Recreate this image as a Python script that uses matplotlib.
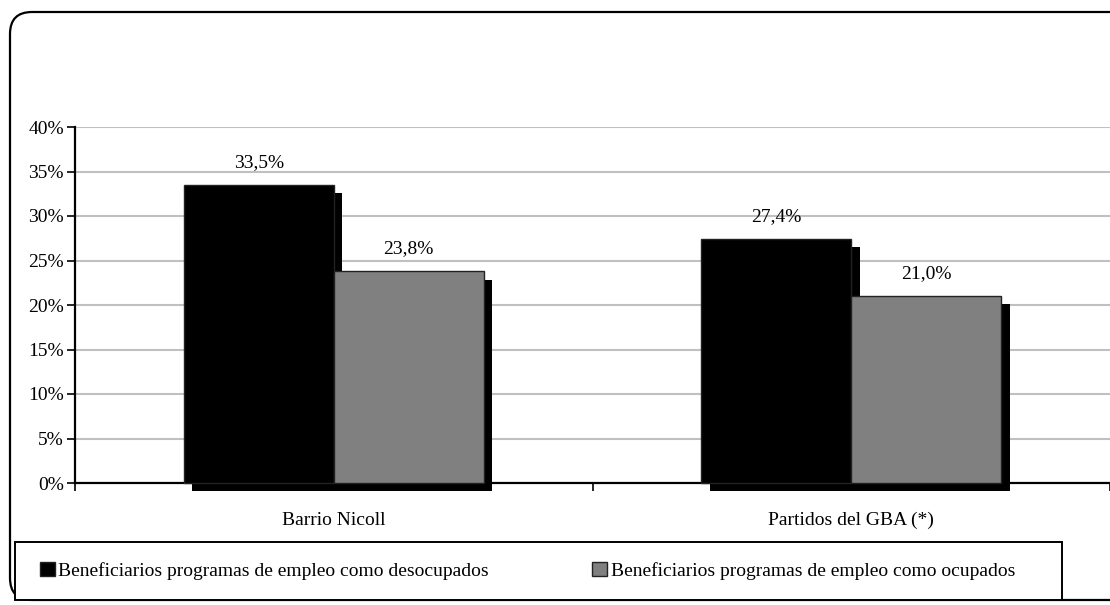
import numpy as np
import matplotlib
matplotlib.use("Agg")
import matplotlib.pyplot as plt
import matplotlib.patheffects as pe
from matplotlib.patches import FancyBboxPatch, Patch, Rectangle
from matplotlib.ticker import PercentFormatter

# ── Data ────────────────────────────────────────────────────────────────
categories = ["Barrio Nicoll", "Partidos del GBA (*)"]
desocupados = [33.5, 27.4]
ocupados = [23.8, 21.0]
series_names = [
    "Beneficiarios programas de empleo como desocupados",
    "Beneficiarios programas de empleo como ocupados",
]
y_ticks = [0, 5, 10, 15, 20, 25, 30, 35, 40]

plt.rcParams["font.family"] = ["Liberation Serif", "DejaVu Serif"]
FS = 14

fig = plt.figure(figsize=(11.1, 6.05), dpi=100, facecolor="white")

# rounded outer frame (right edge runs past the image)
frame = FancyBboxPatch(
    (0.10, 0.05), 11.3, 5.88,
    boxstyle="round,pad=0,rounding_size=0.22",
    transform=fig.dpi_scale_trans,
    facecolor="none", edgecolor="black", linewidth=1.6, zorder=0,
)
fig.patches.append(frame)

ax = fig.add_axes([75 / 1110, 1 - 483 / 605, 1035 / 1110, (483 - 127) / 605])
ax.set_facecolor("white")

x = np.arange(len(categories))
w = 0.29
shadow = [pe.SimplePatchShadow(offset=(6, -6), shadow_rgbFace="black", alpha=1.0), pe.Normal()]

b1 = ax.bar(x - w / 2, desocupados, width=w, color="black", edgecolor="#222222",
            linewidth=1.0, zorder=3, clip_on=False)
b2 = ax.bar(x + w / 2, ocupados, width=w, color="#808080", edgecolor="#222222",
            linewidth=1.0, zorder=4, clip_on=False)
for bars in (b1, b2):
    for p in bars:
        p.set_path_effects(shadow)

for xs, vals in ((x - w / 2, desocupados), (x + w / 2, ocupados)):
    for xi, v in zip(xs, vals):
        ax.annotate(f"{v:.1f}%".replace(".", ","), xy=(xi, v), xytext=(0, 10),
                    textcoords="offset points", ha="center", va="bottom",
                    fontsize=FS, color="black", zorder=6)

ax.set_xlim(-0.5, 1.5)
ax.set_ylim(0, 40)
ax.set_yticks(y_ticks)
ax.yaxis.set_major_formatter(PercentFormatter(decimals=0))
ax.grid(axis="y", color="#c0c0c0", linewidth=1.5, zorder=0)
ax.set_axisbelow(True)

ax.set_xticks(x)
ax.set_xticklabels(categories)
ax.set_xticks([-0.5, 0.5, 1.5], minor=True)
ax.tick_params(axis="x", which="major", length=0, pad=21, labelsize=FS)
ax.tick_params(axis="x", which="minor", length=6, width=1.2, direction="out")
ax.tick_params(axis="y", length=6, width=1.2, labelsize=FS, pad=2)

for s in ("top", "right"):
    ax.spines[s].set_visible(False)
for s in ("left", "bottom"):
    ax.spines[s].set_linewidth(1.6)
    ax.spines[s].set_color("black")

# legend box
box = Rectangle((15, 605 - 600), 1062 - 15, 58, transform=None,
                facecolor="white", edgecolor="black", linewidth=1.4, zorder=1)
fig.patches.append(box)

handles = [
    Patch(facecolor="black", edgecolor="#222222", label=series_names[0]),
    Patch(facecolor="#808080", edgecolor="#222222", label=series_names[1]),
]
leg = fig.legend(
    handles=handles, ncol=2, loc="center left",
    bbox_to_anchor=(40 / 1110, 1 - 571 / 605),
    fontsize=FS, frameon=False,
    handlelength=0.75, handleheight=0.75, handletextpad=0.2,
    columnspacing=5.3, borderaxespad=0, borderpad=0,
)

plt.savefig("out.png", dpi=100, facecolor="white")
plt.close()
